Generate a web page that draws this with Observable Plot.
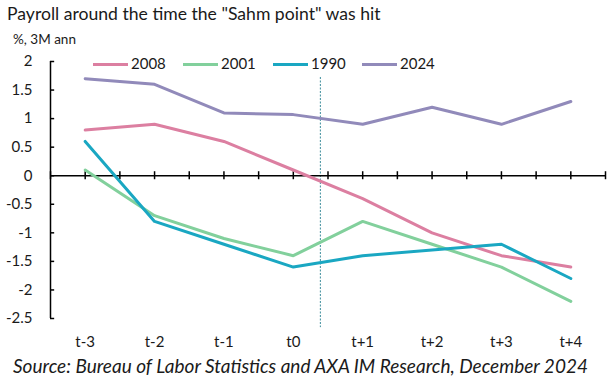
<!DOCTYPE html>
<html><head><meta charset="utf-8">
<script src="https://cdn.jsdelivr.net/npm/d3@7"></script>
<script src="https://cdn.jsdelivr.net/npm/@observablehq/plot@0.6"></script>
<style>
body{margin:0;background:#fff;font-family:Lato,"Open Sans",sans-serif;}
#wrap{position:relative;width:615px;height:379px;overflow:hidden;background:#fff}
#wrap svg{position:absolute;left:0;top:0}
.t{position:absolute;white-space:nowrap;color:#1a1a1a}
#title{left:7px;top:3px;font-size:17.6px}
#sub{left:13px;top:31px;font-size:13.5px}
#src{left:13px;top:354px;font-size:19px;font-style:italic}
#legend{position:absolute;left:0;top:54px;font-size:15px;color:#1a1a1a}
.li{position:absolute;top:0;white-space:nowrap}
.sw{position:absolute;top:9px;width:35px;height:3px}
</style></head>
<body>
<div id="wrap">
  <div id="plot"></div>
  <div class="t" id="title">Payroll around the time the "Sahm point" was hit</div>
  <div class="t" id="sub">%, 3M ann</div>
  <div id="legend"></div>
  <div class="t" id="src">Source: Bureau of Labor Statistics and AXA IM Research, December 2024</div>
</div>
<script>
const categories = ["t-3","t-2","t-1","t0","t+1","t+2","t+3","t+4"];
const s2008 = [0.8, 0.9, 0.6, 0.1, -0.4, -1.0, -1.4, -1.6];
const s2001 = [0.1, -0.7, -1.1, -1.4, -0.8, -1.2, -1.6, -2.2];
const s1990 = [0.6, -0.8, -1.2, -1.6, -1.4, -1.3, -1.2, -1.8];
const s2024 = [1.7, 1.6, 1.1, 1.07, 0.9, 1.2, 0.9, 1.3];
const seriesNames = ["2008","2001","1990","2024"];
const seriesValues = [s2008, s2001, s1990, s2024];
const seriesColors = ["#dc7fa1","#82d09c","#1aa7c2","#918aba"];
const yTicks = [2, 1.5, 1, 0.5, 0, -0.5, -1, -1.5, -2, -2.5];
const sahmLine = [{x: 3.39, y1: 1.72, y2: -2.66}];

const rows = seriesNames.flatMap((s, k) => seriesValues[k].map((v, i) => ({series: s, i, v})));
const xTickPos = d3.range(0, categories.length * 2 + 1).map(j => j / 2 - 0.5);

const chart = Plot.plot({
  width: 615, height: 379,
  marginTop: 61, marginBottom: 61, marginLeft: 50, marginRight: 10,
  x: {domain: [-0.5, categories.length - 0.5], axis: null},
  y: {domain: [-2.5, 2], axis: null},
  color: {domain: seriesNames, range: seriesColors},
  style: {fontFamily: "Lato, 'Open Sans', sans-serif", background: "transparent"},
  marks: [
    Plot.ruleX(sahmLine, {x: "x", y1: "y1", y2: "y2", stroke: "#3a8c9b", strokeWidth: 1, strokeDasharray: "2,1.5"}),
    Plot.ruleY([0], {x1: -0.5, x2: categories.length - 0.5, stroke: "#000", strokeWidth: 1.5}),
    Plot.ruleX(xTickPos, {x: d => d, y1: -0.07, y2: 0.07, stroke: "#000", strokeWidth: 1.5}),
    Plot.ruleX([-0.5], {y1: -2.5, y2: 2, stroke: "#000", strokeWidth: 1.5}),
    Plot.ruleY(yTicks, {y: d => d, x1: -0.5, x2: -0.44, stroke: "#000", strokeWidth: 1.5}),
    Plot.text(yTicks, {x: -0.5, y: d => d, text: d => String(d), dx: -18, textAnchor: "end", fontSize: 15, fill: "#1a1a1a"}),
    Plot.text(categories, {x: (d, i) => i, y: -2.5, text: d => d, dy: 24, fontSize: 15, fill: "#1a1a1a"}),
    Plot.line(rows, {x: "i", y: "v", z: "series", stroke: "series", strokeWidth: 3, strokeLinejoin: "round"})
  ]
});
document.getElementById("plot").appendChild(chart);

const legendX = [93, 183, 273, 362];
const leg = document.getElementById("legend");
seriesNames.forEach((s, k) => {
  const d = document.createElement("div");
  d.className = "li";
  d.style.left = legendX[k] + "px";
  d.innerHTML = `<span class="sw" style="left:0;background:${seriesColors[k]}"></span><span style="position:absolute;left:38px">${s}</span>`;
  leg.appendChild(d);
});
</script>
</body></html>
